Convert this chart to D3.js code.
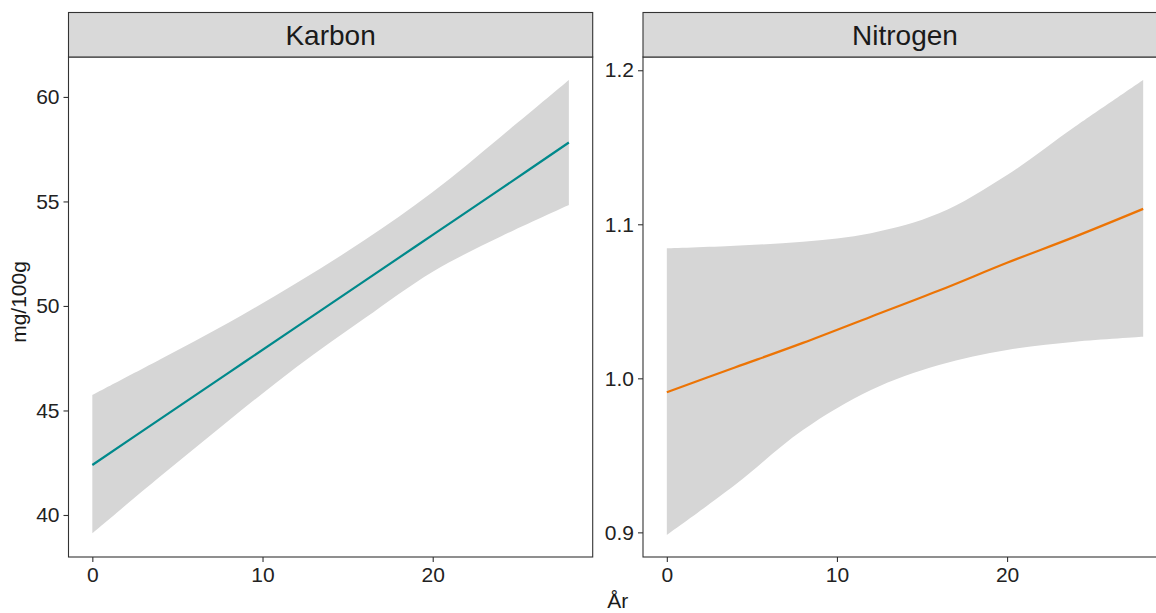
<!DOCTYPE html>
<html>
<head>
<meta charset="utf-8">
<title>Karbon / Nitrogen</title>
<script src="https://d3js.org/d3.v7.min.js"></script>
<style>
  body { margin: 0; background: #fff; }
  svg { display: block; font-family: "Liberation Sans", Arial, sans-serif; }
  .tick text { fill: #222; }
</style>
</head>
<body>
<div id="chart"></div>
<script>
var years = [0, 4, 8, 12, 16, 20, 24, 28];

// Karbon panel
var karbonFit = [42.39, 44.6, 46.8, 49.0, 51.2, 53.4, 55.6, 57.82];
var karbonLo  = [39.12, 41.85, 44.51, 47.08, 49.41, 51.64, 53.32, 54.83];
var karbonHi  = [45.74, 47.45, 49.2, 51.1, 53.15, 55.45, 58.1, 60.81];

// Nitrogen panel
var nitrogenFit = [0.991, 1.007, 1.023, 1.040, 1.057, 1.075, 1.092, 1.110];
var nitrogenLo  = [0.8983, 0.9307, 0.9664, 0.9924, 1.0086, 1.0184, 1.0238, 1.027];
var nitrogenHi  = [1.0844, 1.0861, 1.0887, 1.0942, 1.1071, 1.132, 1.1634, 1.1937];

var xTicks = [0, 10, 20];
var karbonTicks = [40, 45, 50, 55, 60];
var nitrogenTicks = [0.9, 1.0, 1.1, 1.2];

var width = 1156, height = 613;
var stripTop = 12.5, stripBottom = 57, plotBottom = 557;

var svg = d3.select("#chart").append("svg")
  .attr("width", width)
  .attr("height", height);

var panels = [
  { title: "Karbon", left: 68.5, right: 592.7, fit: karbonFit, lo: karbonLo, hi: karbonHi,
    ydom: [37.99, 61.91], yticks: karbonTicks, fmt: d3.format("d"), color: "#00898B" },
  { title: "Nitrogen", left: 643, right: 1167, fit: nitrogenFit, lo: nitrogenLo, hi: nitrogenHi,
    ydom: [0.884, 1.2086], yticks: nitrogenTicks, fmt: d3.format(".1f"), color: "#EC7405" }
];

panels.forEach(function(p) {
  var x = d3.scaleLinear().domain([-1.4, 29.4]).range([p.left, p.right]);
  var y = d3.scaleLinear().domain(p.ydom).range([plotBottom, stripBottom]);

  var rows = years.map(function(yr, i) {
    return { yr: yr, fit: p.fit[i], lo: p.lo[i], hi: p.hi[i] };
  });

  // confidence band
  svg.append("path")
    .datum(rows)
    .attr("fill", "#D6D6D6")
    .attr("d", d3.area()
      .curve(d3.curveCatmullRom.alpha(0.5))
      .x(function(d) { return x(d.yr); })
      .y0(function(d) { return y(d.lo); })
      .y1(function(d) { return y(d.hi); }));

  // fitted line
  svg.append("path")
    .datum(rows)
    .attr("fill", "none")
    .attr("stroke", p.color)
    .attr("stroke-width", 2.2)
    .attr("d", d3.line()
      .curve(d3.curveCatmullRom.alpha(0.5))
      .x(function(d) { return x(d.yr); })
      .y(function(d) { return y(d.fit); }));

  // panel border
  svg.append("rect")
    .attr("x", p.left).attr("y", stripBottom)
    .attr("width", p.right - p.left).attr("height", plotBottom - stripBottom)
    .attr("fill", "none").attr("stroke", "#333").attr("stroke-width", 1.1);

  // strip
  svg.append("rect")
    .attr("x", p.left).attr("y", stripTop)
    .attr("width", p.right - p.left).attr("height", stripBottom - stripTop)
    .attr("fill", "#D9D9D9").attr("stroke", "#333").attr("stroke-width", 1.1);

  svg.append("text")
    .attr("x", (p.left + p.right) / 2)
    .attr("y", (stripTop + stripBottom) / 2 + 10)
    .attr("text-anchor", "middle")
    .attr("font-size", 28)
    .attr("fill", "#1a1a1a")
    .text(p.title);

  // axes
  var gx = svg.append("g")
    .attr("transform", "translate(0," + plotBottom + ")")
    .call(d3.axisBottom(x).tickValues(xTicks).tickSize(5).tickPadding(5));
  var gy = svg.append("g")
    .attr("transform", "translate(" + p.left + ",0)")
    .call(d3.axisLeft(y).tickValues(p.yticks).tickFormat(p.fmt).tickSize(5).tickPadding(4));

  [gx, gy].forEach(function(g) {
    g.select(".domain").remove();
    g.selectAll(".tick line").attr("stroke", "#333").attr("stroke-width", 1.1);
    g.selectAll(".tick text").attr("font-size", 21).attr("font-family", "Liberation Sans, Arial, sans-serif");
  });
});

// axis titles
svg.append("text")
  .attr("x", 617.7)
  .attr("y", 608)
  .attr("text-anchor", "middle")
  .attr("font-size", 21)
  .attr("fill", "#1a1a1a")
  .text("År");

svg.append("text")
  .attr("transform", "translate(26,302) rotate(-90)")
  .attr("text-anchor", "middle")
  .attr("font-size", 21)
  .attr("fill", "#1a1a1a")
  .text("mg/100g");
</script>
</body>
</html>
